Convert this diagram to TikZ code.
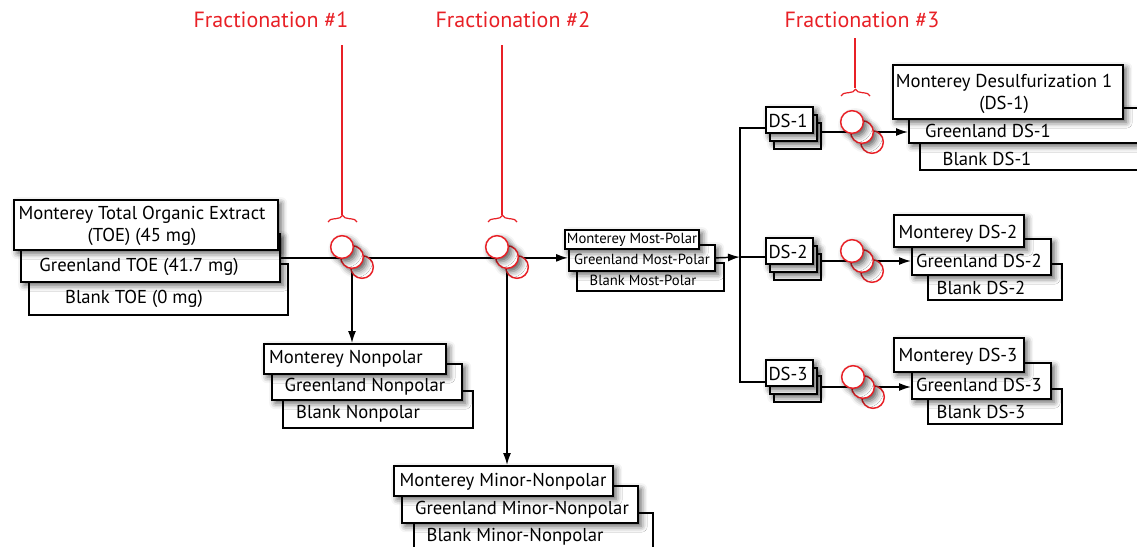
\documentclass[tikz,border=0pt]{standalone}
\usepackage{fontspec}
\setmainfont{PT Sans}
\usetikzlibrary{arrows.meta,decorations.pathreplacing,shadows.blur,backgrounds}
\definecolor{fracred}{RGB}{232,32,38}
% one sample box: name, left, top, right, bottom, extra style
\newcommand\sample[6]{%
  \node[box,#6,minimum width={(#4-#2)*0.75pt},minimum height={(#5-#3)*0.75pt}] (#1) at (#2,#3) {};}
\tikzset{
  box/.style={draw, fill=white, line width=1.3pt, anchor=north west, inner sep=0pt},
  shade/.style={blur shadow={shadow xshift=2.5pt, shadow yshift=-2.5pt, shadow blur radius=4.5pt, shadow opacity=65}},
  txt/.style={font=\fontsize{14}{17}\selectfont, inner sep=0pt, yshift=-1.5pt},
  small/.style={font=\fontsize{11}{12}\selectfont, inner sep=0pt, yshift=-1pt},
  frac/.style={text=fracred, font=\fontsize{16.5}{18}\selectfont, inner sep=0pt},
  vial/.style={circle, draw=fracred, fill=white, line width=1.1pt, minimum size=17pt, inner sep=0pt},
  flow/.style={line width=1.1pt, -{Latex[length=9pt,width=6pt]}},
  link/.style={line width=1.1pt},
  mark3/.style={fracred, line width=0.9pt},
}
\begin{document}
\begin{tikzpicture}[x=0.75pt,y=-0.75pt]
\useasboundingbox (0,0) rectangle (1137,546);

% fraction labels
\node[frac] (frac1) at (271,20) {Fractionation \#1};
\node[frac] (frac2) at (513,20) {Fractionation \#2};
\node[frac] (frac3) at (862,20) {Fractionation \#3};

% total organic extracts
\sample{toeB}{28}{263}{287}{314}{}
\sample{toeG}{20}{233}{279}{281}{shade}
\sample{toeM}{13}{199}{277}{249}{shade}
\node[txt, align=center] (toeMt) at (142,224) {Monterey Total Organic Extract\\(TOE) (45 mg)};
\node[txt] (toeGt) at (139,265) {Greenland TOE (41.7 mg)};
\node[txt] (toeBt) at (134,297) {Blank TOE (0 mg)};

% nonpolar
\sample{npB}{282}{390}{472}{427}{}
\sample{npG}{271}{363}{461}{399}{shade}
\sample{npM}{263}{343}{445}{373}{shade}
\node[txt] (npMt) at (346,357) {Monterey Nonpolar};
\node[txt] (npGt) at (365,385) {Greenland Nonpolar};
\node[txt] (npBt) at (358,412) {Blank Nonpolar};

% minor-nonpolar
\sample{mnB}{413}{512}{652}{560}{}
\sample{mnG}{401}{485}{637}{522}{shade}
\sample{mnM}{393}{465}{612}{495}{shade}
\node[txt] (mnMt) at (503,480) {Monterey Minor-Nonpolar};
\node[txt] (mnGt) at (522,508) {Greenland Minor-Nonpolar};
\node[txt] (mnBt) at (515,535) {Blank Minor-Nonpolar};

% most-polar
\sample{mpB}{576}{262}{723}{290}{}
\sample{mpG}{568}{244}{714}{270}{shade}
\sample{mpM}{564}{229}{698}{248}{shade}
\node[small] (mpMt) at (632,238) {Monterey Most-Polar};
\node[small] (mpGt) at (642,258) {Greenland Most-Polar};
\node[small] (mpBt) at (643,279) {Blank Most-Polar};

% desulfurization stacks
\sample{ds1c}{773}{122}{820}{148}{}
\sample{ds1b}{769}{114}{816}{140}{shade}
\sample{ds1a}{765}{106}{812}{132}{shade}
\node[txt] (ds1t) at (788,119) {DS-1};
\sample{ds2c}{773}{253}{820}{279}{}
\sample{ds2b}{769}{245}{816}{271}{shade}
\sample{ds2a}{765}{237}{812}{263}{shade}
\node[txt] (ds2t) at (788,250) {DS-2};
\sample{ds3c}{773}{375}{820}{401}{}
\sample{ds3b}{769}{367}{816}{393}{shade}
\sample{ds3a}{765}{359}{812}{385}{shade}
\node[txt] (ds3t) at (788,372) {DS-3};

% DS-1 results
\sample{d1B}{919}{142}{1160}{169}{}
\sample{d1G}{908}{107}{1160}{142}{shade}
\sample{d1M}{892}{64}{1122}{118}{shade}
\node[txt, align=center] (d1Mt) at (1004,92) {Monterey Desulfurization 1\\(DS-1)};
\node[txt] (d1Gt) at (988,129) {Greenland DS-1};
\node[txt] (d1Bt) at (987,157) {Blank DS-1};

% DS-2 results
\sample{d2B}{927}{263}{1061}{299}{}
\sample{d2G}{911}{238}{1050}{274}{shade}
\sample{d2M}{893}{214}{1023}{246}{shade}
\node[txt] (d2Mt) at (958,232) {Monterey DS-2};
\node[txt] (d2Gt) at (979,259) {Greenland DS-2};
\node[txt] (d2Bt) at (981,286) {Blank DS-2};

% DS-3 results
\sample{d3B}{927}{388}{1061}{423}{}
\sample{d3G}{911}{362}{1050}{398}{shade}
\sample{d3M}{893}{337}{1023}{371}{shade}
\node[txt] (d3Mt) at (958,355) {Monterey DS-3};
\node[txt] (d3Gt) at (979,383) {Greenland DS-3};
\node[txt] (d3Bt) at (981,410) {Blank DS-3};

% fraction vials
\node[vial] (f1c) at (362,267) {};
\node[vial, shade] (f1b) at (352,257) {};
\node[vial, shade] (f1a) at (342,247) {};
\node[vial] (f2c) at (517,267) {};
\node[vial, shade] (f2b) at (507,257) {};
\node[vial, shade] (f2a) at (497,247) {};
\node[vial] (f3c) at (872,142) {};
\node[vial, shade] (f3b) at (862,132) {};
\node[vial, shade] (f3a) at (852,122) {};
\node[vial] (f4c) at (872,271) {};
\node[vial, shade] (f4b) at (862,261) {};
\node[vial, shade] (f4a) at (852,251) {};
\node[vial] (f5c) at (873,397) {};
\node[vial, shade] (f5b) at (863,387) {};
\node[vial, shade] (f5a) at (853,377) {};

% red markers
\draw[mark3] (342,45) -- (342,215);
\draw[mark3, decorate, decoration={brace, amplitude=5pt}] (328,222) -- (357,222);
\draw[mark3] (502,45) -- (502,215);
\draw[mark3, decorate, decoration={brace, amplitude=5pt}] (488,222) -- (517,222);
\draw[mark3] (855,38) -- (855,88);
\draw[mark3, decorate, decoration={brace, amplitude=5pt}] (841,96) -- (870,96);

% connectors
\coordinate (jn) at (740,257);
\coordinate (j1) at (740,128);
\coordinate (j3) at (740,382);
\begin{pgfonlayer}{background}
\draw[flow] (toeG.east) -- (mpG.west);
\draw[flow] (f1b.south) -- (f1b.south |- npM.north);
\draw[flow] (f2b.south) -- (f2b.south |- mnM.north);
\draw[flow] (mpG.east) -- (jn);
\draw[link] (j1 -| ds1a.west) -- (j1) -- (j3) -- (j3 -| ds3a.west);
\draw[link] (jn) -- (jn -| ds2a.west);
\draw[flow] (ds1c.east |- f3b) -- (f3b -| d1G.west);
\draw[flow] (ds2c.east |- f4b) -- (f4b -| d2G.west);
\draw[flow] (ds3c.east |- f5b) -- (f5b -| d3G.west);
\end{pgfonlayer}
\end{tikzpicture}
\end{document}
